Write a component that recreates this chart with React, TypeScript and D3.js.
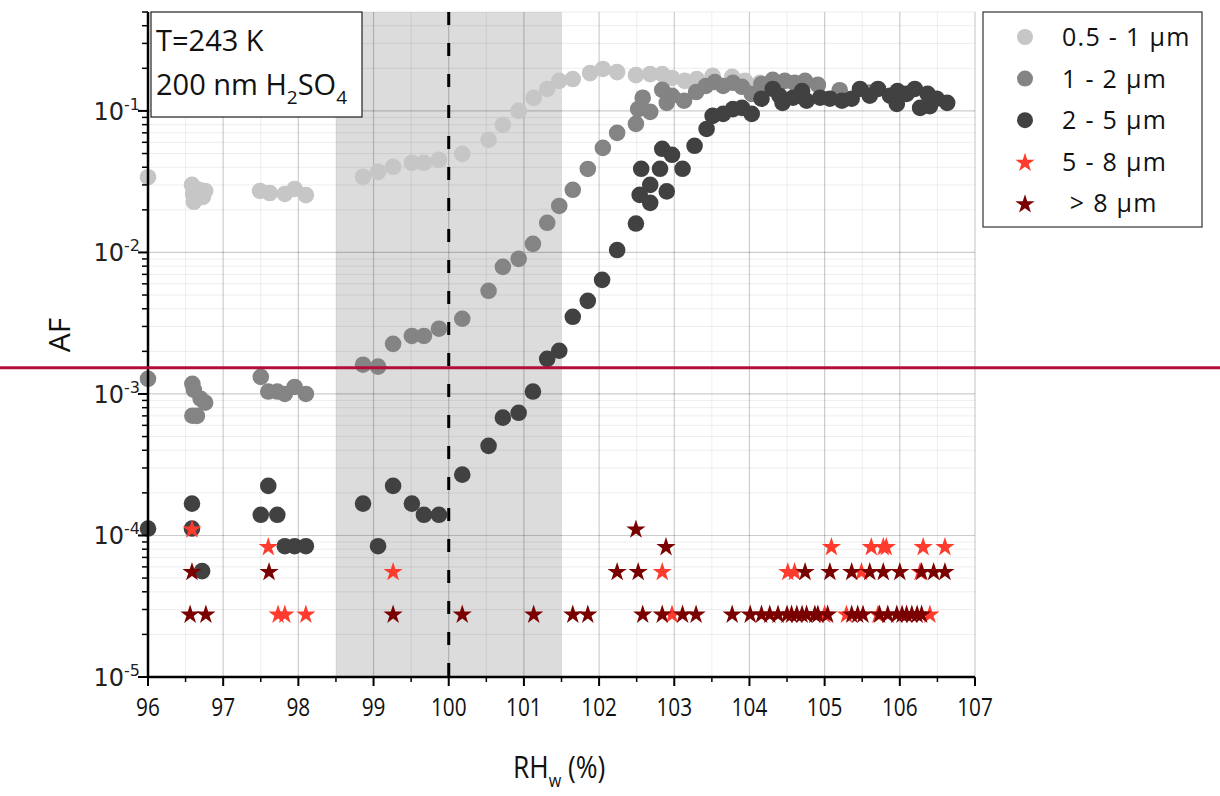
import React from "react";
import * as d3 from "d3";

// Discrete AF levels for the large-particle counts
const L1 = 2.8e-5, L2 = 5.6e-5, L3 = 8.4e-5, L4 = 1.12e-4;

const X_TICKS = [96, 97, 98, 99, 100, 101, 102, 103, 104, 105, 106, 107];
const Y_DECADES = [1e-5, 1e-4, 1e-3, 1e-2, 1e-1];
const Y_EXPONENTS = ["-5", "-4", "-3", "-2", "-1"];
const SHADE_RANGE = [98.5, 101.5];
const RH_SAT = 100;
const AF_THRESHOLD = 1.53e-3;

const S_05_1: [number, number][] = [
  [96.0, 0.034], [96.585, 0.030], [96.60, 0.0259], [96.61, 0.0228], [96.68, 0.0277], [96.73, 0.0247], [96.76, 0.0272],
  [97.49, 0.0272], [97.62, 0.0263], [97.82, 0.0259], [97.95, 0.0281], [98.10, 0.0254],
  [98.86, 0.0342], [99.06, 0.0371], [99.26, 0.0403], [99.51, 0.043], [99.67, 0.043], [99.87, 0.0451],
  [100.18, 0.0497], [100.53, 0.0624], [100.72, 0.0796], [100.93, 0.1], [101.13, 0.1236], [101.31, 0.143],
  [101.47, 0.163], [101.65, 0.168], [101.88, 0.185], [102.05, 0.198], [102.24, 0.188], [102.49, 0.179],
  [102.68, 0.182], [102.84, 0.182], [102.97, 0.171], [103.14, 0.163], [103.30, 0.168], [103.51, 0.177],
  [103.77, 0.174], [103.94, 0.163], [104.14, 0.158], [104.38, 0.152], [104.67, 0.146],
];

const S_1_2: [number, number][] = [
  [96.0, 1.28e-3], [96.59, 1.18e-3], [96.61, 1.07e-3], [96.70, 9.25e-4], [96.76, 8.67e-4], [96.59, 7.02e-4], [96.65, 7.0e-4],
  [97.50, 1.32e-3], [97.60, 1.04e-3], [97.72, 1.04e-3], [97.82, 1.0e-3], [97.95, 1.12e-3], [98.10, 1.0e-3],
  [98.86, 1.61e-3], [99.06, 1.56e-3], [99.26, 2.26e-3], [99.51, 2.57e-3], [99.67, 2.57e-3], [99.87, 2.89e-3],
  [100.18, 3.40e-3], [100.53, 5.36e-3], [100.72, 7.91e-3], [100.93, 9.01e-3], [101.12, 0.0115], [101.31, 0.0162],
  [101.47, 0.0213], [101.65, 0.0277], [101.85, 0.0389], [102.05, 0.0548], [102.24, 0.070], [102.49, 0.081],
  [102.52, 0.103], [102.58, 0.124], [102.68, 0.0984], [102.84, 0.141], [102.90, 0.114], [102.97, 0.128],
  [103.13, 0.118], [103.29, 0.136], [103.42, 0.150], [103.54, 0.160], [103.65, 0.150], [103.78, 0.158],
  [103.90, 0.148], [104.03, 0.132], [104.16, 0.155], [104.31, 0.166], [104.47, 0.163], [104.60, 0.158],
  [104.74, 0.163], [104.91, 0.153], [105.2, 0.14], [105.6, 0.135], [106.0, 0.13], [106.4, 0.125],
];

const S_2_5: [number, number][] = [
  [96.0, 1.12e-4], [96.585, 1.68e-4], [96.585, 1.12e-4], [96.72, 5.6e-5],
  [97.50, 1.40e-4], [97.60, 2.24e-4], [97.72, 1.40e-4], [97.82, 8.4e-5], [97.95, 8.4e-5], [98.10, 8.4e-5],
  [98.86, 1.68e-4], [99.06, 8.4e-5], [99.26, 2.24e-4], [99.51, 1.68e-4], [99.67, 1.40e-4], [99.87, 1.40e-4],
  [100.18, 2.69e-4], [100.53, 4.3e-4], [100.72, 6.8e-4], [100.93, 7.36e-4], [101.12, 1.04e-3], [101.31, 1.77e-3],
  [101.47, 2.02e-3], [101.65, 3.51e-3], [101.85, 4.55e-3], [102.04, 6.4e-3], [102.24, 0.0104],
  [102.49, 0.0160], [102.54, 0.0255], [102.56, 0.039], [102.68, 0.0224], [102.68, 0.030], [102.81, 0.039],
  [102.84, 0.054], [102.90, 0.027], [102.97, 0.049], [103.11, 0.039], [103.27, 0.0567], [103.43, 0.0746],
  [103.51, 0.0922], [103.65, 0.0953], [103.78, 0.103], [103.90, 0.105], [104.03, 0.0953], [104.16, 0.122],
  [104.31, 0.143], [104.40, 0.128], [104.44, 0.114], [104.58, 0.124], [104.70, 0.138], [104.76, 0.118],
  [104.94, 0.124], [105.07, 0.122], [105.23, 0.118], [105.36, 0.122], [105.47, 0.143], [105.60, 0.128],
  [105.71, 0.143], [105.87, 0.128], [105.96, 0.112], [105.97, 0.138], [106.09, 0.132], [106.20, 0.143],
  [106.27, 0.105], [106.37, 0.132], [106.40, 0.108], [106.49, 0.122], [106.63, 0.114],
];

const S_5_8: [number, number][] = [
  [96.585, L4], [97.60, L3], [97.73, L1], [97.82, L1], [98.10, L1], [99.26, L2],
  [102.84, L2], [102.97, L1], [104.51, L2], [104.60, L2], [105.00, L1], [105.09, L3], [105.29, L1],
  [105.49, L2], [105.62, L3], [105.78, L3], [105.82, L3], [105.71, L1], [106.27, L2], [106.31, L3],
  [106.40, L1], [106.60, L3],
];

const S_GT8_L1 = [96.56, 96.77, 99.26, 100.18, 101.13, 101.65, 101.85, 102.58, 102.84, 103.11, 103.29, 103.77,
  104.01, 104.16, 104.27, 104.38, 104.50, 104.56, 104.63, 104.70, 104.76, 104.87, 104.91, 105.04, 105.36,
  105.44, 105.51, 105.73, 105.84, 105.96, 106.03, 106.09, 106.16, 106.23, 106.29];
const S_GT8_L2 = [96.585, 97.61, 102.24, 102.52, 104.74, 105.07, 105.36, 105.60, 105.78, 106.0, 106.29, 106.45, 106.60];
const S_GT8_L3 = [102.89];
const S_GT8_L4 = [102.49];

const LEGEND = ["0.5 - 1 µm", "1 - 2 µm", "2 - 5 µm", "5 - 8 µm", " > 8 µm"];
const COLORS = ["#c6c6c6", "#848484", "#414141", "#ff3b2e", "#7a0000"];

const W = 1220, H = 796;
const M = { left: 148, right: 975, top: 12, bottom: 677 };
const FONT = "'Open Sans', 'Noto Sans', sans-serif";
const TICKFONT = "'DejaVu Sans', Verdana, sans-serif";

export default function App() {
  const x = d3.scaleLinear().domain([96, 107]).range([M.left, M.right]);
  const y = d3.scaleLog().domain([1e-5, 0.5]).range([M.bottom, M.top]);

  const gt8: [number, number][] = [
    ...S_GT8_L1.map((v) => [v, L1] as [number, number]),
    ...S_GT8_L2.map((v) => [v, L2] as [number, number]),
    ...S_GT8_L3.map((v) => [v, L3] as [number, number]),
    ...S_GT8_L4.map((v) => [v, L4] as [number, number]),
  ];

  const star = d3.symbol().type(d3.symbolStar).size(115)()!;
  const R = 8.3;

  const minorY: number[] = [];
  for (let e = -5; e <= -1; e++) {
    for (let k = 2; k <= 9; k++) {
      const v = k * Math.pow(10, e);
      if (v <= 0.5) minorY.push(v);
    }
  }
  const minorX = d3.range(96.5, 107, 1);

  const circles = (data: [number, number][], color: string) =>
    data.map((d, i) => <circle key={i} cx={x(d[0])} cy={y(d[1])} r={R} fill={color} />);
  const stars = (data: [number, number][], color: string) =>
    data.map((d, i) => <path key={i} d={star} transform={`translate(${x(d[0])},${y(d[1]) + 1})`} fill={color} />);

  return (
    <svg width={W} height={H} style={{ position: "absolute", left: 0, top: 0, background: "#fff" }} fontFamily={FONT}>
      <rect x={0} y={0} width={W} height={H} fill="#fff" />
      {/* shaded region */}
      <rect x={x(SHADE_RANGE[0])} y={M.top} width={x(SHADE_RANGE[1]) - x(SHADE_RANGE[0])} height={M.bottom - M.top} fill="#dcdcdc" />
      {/* minor grid */}
      {minorY.map((v) => (
        <line key={"my" + v} x1={M.left} x2={M.right} y1={y(v)} y2={y(v)} stroke="#000" strokeOpacity={0.07} strokeWidth={1} />
      ))}
      {minorX.map((v) => (
        <line key={"mx" + v} x1={x(v)} x2={x(v)} y1={M.top} y2={M.bottom} stroke="#000" strokeOpacity={0.07} strokeWidth={1} />
      ))}
      {/* major grid */}
      {Y_DECADES.map((v) => (
        <line key={"gy" + v} x1={M.left} x2={M.right} y1={y(v)} y2={y(v)} stroke="#000" strokeOpacity={0.2} strokeWidth={1.2} />
      ))}
      {X_TICKS.map((v) => (
        <line key={"gx" + v} x1={x(v)} x2={x(v)} y1={M.top} y2={M.bottom} stroke="#000" strokeOpacity={0.2} strokeWidth={1.2} />
      ))}
      {/* dashed line */}
      <line x1={x(RH_SAT)} x2={x(RH_SAT)} y1={M.top} y2={M.bottom} stroke="#000" strokeWidth={3} strokeDasharray="13,18" />

      {/* data */}
      <g>{circles(S_05_1, COLORS[0])}</g>
      <g>{circles(S_1_2, COLORS[1])}</g>
      <g>{circles(S_2_5, COLORS[2])}</g>
      <g>{stars(S_5_8, COLORS[3])}</g>
      <g>{stars(gt8, COLORS[4])}</g>

      {/* axes */}
      <line x1={M.left} x2={M.left} y1={M.top} y2={M.bottom + 1} stroke="#000" strokeWidth={2.5} />
      <line x1={M.left - 1} x2={M.right} y1={M.bottom} y2={M.bottom} stroke="#000" strokeWidth={2.5} />
      {Y_DECADES.map((v) => (
        <line key={"ty" + v} x1={M.left - 10} x2={M.left} y1={y(v)} y2={y(v)} stroke="#000" strokeWidth={2} />
      ))}
      {minorY.map((v) => (
        <line key={"tmy" + v} x1={M.left - 6} x2={M.left} y1={y(v)} y2={y(v)} stroke="#000" strokeWidth={1.5} />
      ))}
      {X_TICKS.map((v) => (
        <line key={"tx" + v} x1={x(v)} x2={x(v)} y1={M.bottom} y2={M.bottom + 9} stroke="#000" strokeWidth={2} />
      ))}
      {minorX.map((v) => (
        <line key={"tmx" + v} x1={x(v)} x2={x(v)} y1={M.bottom} y2={M.bottom + 5} stroke="#000" strokeWidth={1.5} />
      ))}
      {X_TICKS.map((v) => (
        <text key={"lx" + v} transform={`translate(${x(v)},${M.bottom + 39}) scale(0.8,1)`} textAnchor="middle" fontSize={26} fill="#111">{v}</text>
      ))}
      {Y_DECADES.map((v, i) => (
        <text key={"ly" + v} x={M.left - 8} y={y(v) + 9} textAnchor="end" fontSize={24} fill="#222" fontFamily={TICKFONT}>
          10<tspan dy={-10} fontSize={16}>{Y_EXPONENTS[i]}</tspan>
        </text>
      ))}

      {/* axis titles */}
      <text transform={`translate(70,335) rotate(-90)`} textAnchor="middle" fontSize={30} fill="#111">AF</text>
      <text transform="translate(513,778) scale(0.85,1)" fontSize={31} fill="#111">
        RH<tspan dy={9} fontSize={19}>w</tspan><tspan dy={-9}> (%)</tspan>
      </text>

      {/* annotation box */}
      <rect x={151} y={12} width={211} height={105} fill="#fff" stroke="#222" strokeWidth={1.2} />
      <text x={156} y={51} fontSize={29} fill="#111">T=243 K</text>
      <text x={156} y={95} fontSize={29} fill="#111">
        200 nm H<tspan dy={9} fontSize={19}>2</tspan><tspan dy={-9}>SO</tspan><tspan dy={9} fontSize={19}>4</tspan>
      </text>

      {/* legend */}
      <rect x={983} y={12} width={219} height={215} fill="#fff" stroke="#333" strokeWidth={1.2} />
      {LEGEND.map((lab, i) => {
        const cy = 37 + i * 41.6;
        return (
          <g key={lab}>
            {i < 3 ? (
              <circle cx={1025} cy={cy} r={8} fill={COLORS[i]} />
            ) : (
              <path d={star} transform={`translate(1025,${cy + 1})`} fill={COLORS[i]} />
            )}
            <text x={1062} y={cy + 9} fontSize={25} letterSpacing={1.3} fill="#111" style={{ whiteSpace: "pre" }}>{lab}</text>
          </g>
        );
      })}

      {/* threshold line */}
      <line x1={0} x2={W} y1={y(AF_THRESHOLD)} y2={y(AF_THRESHOLD)} stroke="#b50d3a" strokeWidth={3} />
    </svg>
  );
}
